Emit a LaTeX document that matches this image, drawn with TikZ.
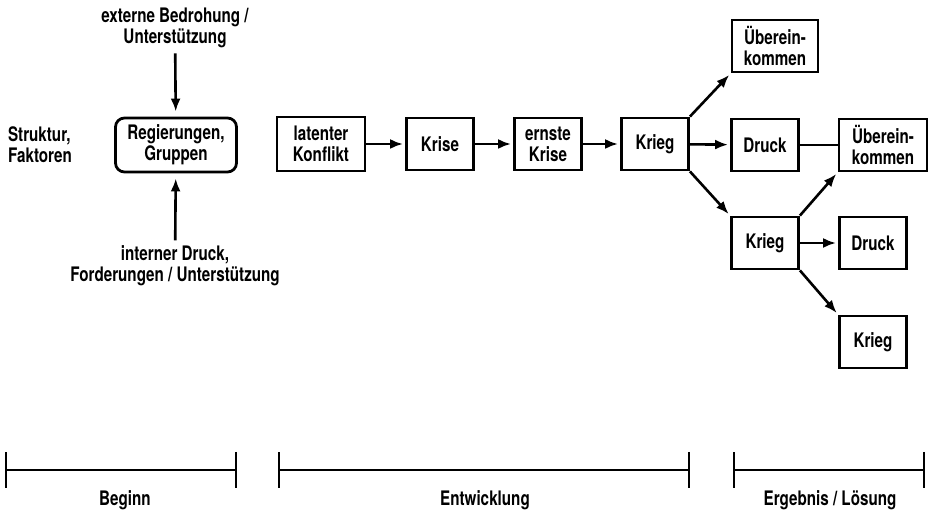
\documentclass[tikz,border=0pt]{standalone}
\usepackage{fontspec}
\setmainfont{TeX Gyre Heros}[FakeStretch=0.76]
\usetikzlibrary{arrows.meta}
\begin{document}
\begin{tikzpicture}[>={Latex[length=13bp,width=10bp]},line join=miter,
  every node/.style={font=\bfseries\fontsize{20bp}{21bp}\selectfont,align=center},
  box/.style={draw,line width=2.8bp,minimum width=67bp,minimum height=52bp,inner sep=2bp},
  link/.style={line width=2.6bp},
  phase/.style={line width=2.4bp,{Bar[width=36bp,line width=2.4bp]}-{Bar[width=36bp,line width=2.4bp]}}]
\useasboundingbox (0bp,0bp) rectangle (928bp,513bp);
%%
\node (ext) at (175bp,485bp) [draw=none] {externe Bedrohung /\\Unterstützung};
  \node (reg) at (176bp,368bp) [box,rounded corners=9bp,minimum width=121bp,minimum height=54bp] {Regierungen,\\Gruppen};
  \node (struktur) at (40bp,368bp) [draw=none,align=left] {Struktur,\\Faktoren};
  \node (int) at (175bp,247bp) [draw=none] {interner Druck,\\Forderungen / Unterstützung};
  \node (latent) at (321bp,369bp) [box,minimum width=88bp,minimum height=54bp] {latenter\\Konflikt};
  \node (krise) at (440bp,369bp) [box] {Krise};
  \node (ernste) at (548bp,369bp) [box] {ernste\\Krise};
  \node (krieg1) at (655bp,369bp) [box] {Krieg};
  \node (uber1) at (775bp,467bp) [box,minimum width=86bp] {Überein-\\kommen};
  \node (druck1) at (765bp,368bp) [box] {Druck};
  \node (uber2) at (883bp,368bp) [box,minimum width=88bp] {Überein-\\kommen};
  \node (krieg2) at (765bp,270bp) [box] {Krieg};
  \node (druck2) at (873bp,270bp) [box] {Druck};
  \node (krieg3) at (873bp,171bp) [box] {Krieg};
  \draw [link,->,shorten >=5bp,shorten <=2bp] (ext) -- (reg);
  \draw [link,->,shorten >=5bp,shorten <=2bp] (int) -- (reg);
  \draw [link,->,shorten >=2bp] (latent) -- (krise);
  \draw [link,->,shorten >=2bp] (krise) -- (ernste);
  \draw [link,->,shorten >=2bp] (ernste) -- (krieg1);
  \draw [link,->,shorten >=2bp] (krieg1.north east) -- (uber1.south west);
  \draw [link,->,shorten >=2bp] (krieg1) -- (druck1);
  \draw [link,->,shorten >=2bp] (krieg1.south east) -- (krieg2.north west);
  \draw [link] (druck1) -- (uber2);
  \draw [link,->,shorten >=2bp] (krieg2.north east) -- (uber2.south west);
  \draw [link,->,shorten >=2bp] (krieg2) -- (druck2);
  \draw [link,->,shorten >=2bp] (krieg2.south east) -- (krieg3.north west);
%
\coordinate (b1) at (5bp,43bp);
  \coordinate (b2) at (237bp,43bp);
  \coordinate (e1) at (278bp,43bp);
  \coordinate (e2) at (690bp,43bp);
  \coordinate (r1) at (733bp,43bp);
  \coordinate (r2) at (925bp,43bp);
  \draw [phase] (b1) -- (b2);
  \draw [phase] (e1) -- (e2);
  \draw [phase] (r1) -- (r2);
  \node (beginn) at (125bp,13bp) [draw=none] {Beginn};
  \node (entw) at (485bp,13bp) [draw=none] {Entwicklung};
  \node (ergeb) at (830bp,13bp) [draw=none] {Ergebnis / Lösung};
%
\end{tikzpicture}
\end{document}
